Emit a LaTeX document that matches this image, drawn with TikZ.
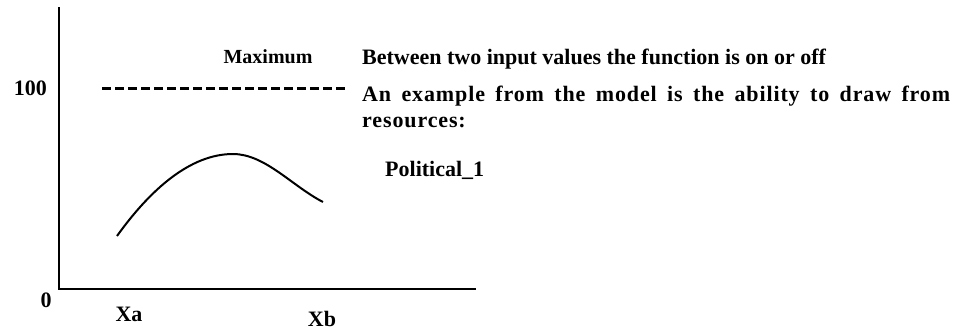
\documentclass[tikz,border=0pt]{standalone}
\usepackage{fontspec}
\setmainfont{Liberation Serif}
\begin{document}
\begin{tikzpicture}[x=1pt, y=-1pt,
  axis/.style={line width=2.4pt},
  curve/.style={line width=2pt},
  maxline/.style={line width=3pt, dash pattern=on 9pt off 4pt},
  lab/.style={font=\fontsize{22}{26}\selectfont\bfseries, inner sep=0pt},
  smalllab/.style={font=\fontsize{20}{24}\selectfont\bfseries, inner sep=0pt}]
  \useasboundingbox (0,0) rectangle (955,330);
  % axes
  \coordinate (ytop) at (59,7);
  \coordinate (origin) at (59,289);
  \coordinate (xend) at (476,289);
  \draw[axis] (ytop) -- (origin) -- (xend);
  \node[lab,anchor=base east] (hundred) at (47,95) {100};
  \node[lab,anchor=base] (zero) at (46,307) {0};
  \node[lab,anchor=base] (xa) at (129,321) {Xa};
  \node[lab,anchor=base] (xb) at (322,326) {Xb};
  % maximum line
  \coordinate (maxL) at (102,88);
  \coordinate (maxR) at (347,88);
  \draw[maxline] (maxL) -- (maxR);
  \node[smalllab,anchor=base] (maxlab) at (268,63) {Maximum};
  % function curve
  \coordinate (fa) at (117,236);
  \coordinate (fpeak) at (233,154);
  \coordinate (fb) at (323,202);
  \draw[curve] (fa) .. controls (150,190) and (190,154) .. (fpeak)
    .. controls (265,154) and (292,186) .. (fb);
  % text on the right
  \node[lab,anchor=base west] (onoff) at (362,64)
    {Between two input values the function is on or off};
  \node[lab,anchor=north west,text width=588pt,align=justify] (example) at (362,86)
    {\addfontfeature{LetterSpace=4}An example from the model is the ability to draw from \mbox{resources:}};
  \node[lab,anchor=base west] (political) at (385,176) {Political\_1};
\end{tikzpicture}
\end{document}
